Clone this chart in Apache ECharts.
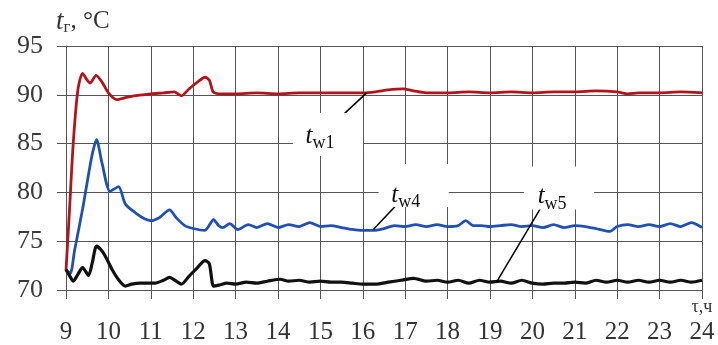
<!DOCTYPE html>
<html>
<head>
<meta charset="utf-8">
<script src="https://cdn.jsdelivr.net/npm/echarts@6/dist/echarts.min.js"></script>
<style>
  html, body { margin: 0; padding: 0; background: #fff; }
  #chart { width: 718px; height: 345px; }
</style>
</head>
<body>
<div id="chart"></div>
<script>
// Supply temperature tw1 (hour, °C)
const w1Hours = [9.0, 9.08, 9.17, 9.28, 9.39, 9.5, 9.57, 9.71, 9.85, 10.0, 10.2, 10.4, 10.6, 10.8, 11.0, 11.3, 11.55, 11.72, 11.9, 12.1, 12.28, 12.38, 12.47, 12.6,
  13.0, 13.5, 14.0, 14.5, 15.0, 15.5, 16.0, 16.3, 16.6, 16.95, 17.2, 17.5, 18.0, 18.5, 19.0, 19.5, 20.0, 20.5, 21.0, 21.5, 22.0, 22.25, 22.5, 23.0, 23.5, 24.0];
const w1Temps = [72.0, 78.0, 85.0, 90.5, 92.2, 91.5, 91.2, 92.0, 91.3, 90.2, 89.5, 89.7, 89.9, 90.0, 90.1, 90.2, 90.3, 89.9, 90.6, 91.3, 91.8, 91.5, 90.3, 90.1,
  90.1, 90.2, 90.1, 90.2, 90.2, 90.2, 90.2, 90.3, 90.5, 90.6, 90.4, 90.2, 90.2, 90.3, 90.2, 90.3, 90.2, 90.3, 90.3, 90.4, 90.3, 90.1, 90.2, 90.2, 90.3, 90.2];

// Temperature tw4
const w4Hours = [9.0, 9.1, 9.2, 9.4, 9.6, 9.72, 9.85, 10.04, 10.24, 10.4, 10.67, 10.85, 11.0, 11.2, 11.44, 11.6, 11.8, 12.0, 12.27, 12.48, 12.6, 12.7, 12.86,
  13.05, 13.3, 13.5, 13.75, 14.0, 14.25, 14.5, 14.75, 15.0, 15.25, 15.5, 15.75, 16.0, 16.25, 16.5, 16.75, 17.0, 17.25, 17.5, 17.75, 18.0, 18.25, 18.43, 18.6,
  18.8, 19.0, 19.25, 19.5, 19.75, 20.0, 20.25, 20.5, 20.75, 21.0, 21.25, 21.5, 21.83, 22.0, 22.25, 22.5, 22.75, 23.0, 23.25, 23.5, 23.75, 24.0];
const w4Temps = [72.0, 71.7, 74.0, 78.5, 83.5, 85.4, 83.0, 80.1, 80.6, 78.8, 77.8, 77.3, 77.1, 77.4, 78.2, 77.4, 76.6, 76.3, 76.1, 77.2, 76.6, 76.4, 76.8,
  76.2, 76.7, 76.4, 76.8, 76.4, 76.7, 76.5, 76.9, 76.5, 76.6, 76.4, 76.2, 76.1, 76.1, 76.3, 76.6, 76.5, 76.7, 76.5, 76.7, 76.5, 76.6, 77.1, 76.6,
  76.6, 76.5, 76.6, 76.7, 76.5, 76.6, 76.4, 76.7, 76.4, 76.6, 76.5, 76.3, 76.0, 76.5, 76.7, 76.5, 76.7, 76.5, 76.8, 76.5, 76.9, 76.4];

// Temperature tw5
const w5Hours = [9.0, 9.08, 9.17, 9.28, 9.39, 9.53, 9.62, 9.72, 9.85, 9.96, 10.1, 10.25, 10.4, 10.55, 10.75, 11.1, 11.3, 11.44, 11.6, 11.72, 11.9, 12.1, 12.28, 12.38, 12.48, 12.6, 12.8,
  13.0, 13.25, 13.5, 13.75, 14.05, 14.25, 14.5, 14.75, 15.0, 15.25, 15.5, 15.75, 16.0, 16.3, 16.6, 16.9, 17.2, 17.5, 17.75, 18.0, 18.25, 18.5, 18.75,
  19.0, 19.25, 19.5, 19.75, 20.0, 20.25, 20.5, 20.75, 21.0, 21.25, 21.5, 21.75, 22.0, 22.25, 22.5, 22.75, 23.0, 23.25, 23.5, 23.75, 24.0];
const w5Temps = [72.1, 71.5, 70.9, 71.6, 72.3, 71.5, 72.8, 74.5, 74.0, 73.2, 72.0, 71.0, 70.4, 70.6, 70.7, 70.7, 71.0, 71.3, 70.9, 70.6, 71.4, 72.3, 73.0, 72.7, 70.4, 70.5, 70.7,
  70.6, 70.8, 70.7, 70.9, 71.1, 70.9, 71.0, 70.8, 70.9, 70.8, 70.8, 70.7, 70.6, 70.6, 70.8, 71.0, 71.2, 70.9, 71.0, 70.8, 71.0, 70.7, 71.0,
  70.8, 70.9, 70.7, 71.0, 70.7, 70.6, 70.7, 70.7, 70.8, 70.7, 71.0, 70.8, 71.0, 70.8, 71.0, 70.8, 71.0, 70.8, 71.0, 70.8, 71.0];

// Axis ticks
const hourTicks = [9, 10, 11, 12, 13, 14, 15, 16, 17, 18, 19, 20, 21, 22, 23, 24];
const tempTicks = [70, 75, 80, 85, 90, 95];

// Curve labels: [name, box centre (hour, °C), leader start, leader end on curve]
const curveLabels = [
  ['w1', [15.18, 85.92], [15.3, 87.0], [16.09, 90.2]],
  ['w4', [17.2, 80.71], [16.76, 78.55], [16.25, 76.2]],
  ['w5', [20.63, 80.46], [20.22, 78.57], [19.16, 70.85]]
];
const labelTextOffsets = { w1: [-8, 2], w4: [-8, 10], w5: [-7, 9] };

const serif = 'Liberation Serif';

function pairs(xs, ys) { return xs.map((x, i) => [x, ys[i]]); }

function annotation(name) {
  const item = curveLabels.find(c => c[0] === name);
  return {
    markPoint: {
      silent: true,
      symbol: 'rect',
      symbolSize: [70, 43],
      itemStyle: { color: '#ffffff' },
      label: {
        show: true,
        position: 'inside',
        offset: labelTextOffsets[name],
        formatter: '{i|t}{s|' + name + '}',
        rich: {
          i: { fontFamily: serif, fontStyle: 'italic', fontSize: 25, color: '#111' },
          s: { fontFamily: serif, fontSize: 18, color: '#111', padding: [14, 0, 0, 0] }
        }
      },
      data: [{ coord: item[1] }]
    },
    markLine: {
      silent: true,
      symbol: ['none', 'none'],
      label: { show: false },
      lineStyle: { color: '#000', width: 1.5, type: 'solid' },
      data: [[{ coord: item[2] }, { coord: item[3] }]]
    }
  };
}

const chart = echarts.init(document.getElementById('chart'));
chart.setOption({
  animation: false,
  backgroundColor: '#ffffff',
  grid: { left: 66, right: 16, top: 46, bottom: 54 },
  xAxis: {
    type: 'value',
    min: hourTicks[0],
    max: hourTicks[hourTicks.length - 1],
    interval: 1,
    name: 'τ,ч',
    nameLocation: 'end',
    nameGap: 0,
    nameTextStyle: { fontFamily: serif, fontSize: 18, color: '#333', align: 'center', verticalAlign: 'top', padding: [8, 0, 0, 0] },
    axisLine: { show: true, lineStyle: { color: '#555', width: 1 } },
    axisTick: { show: true, length: 9, lineStyle: { color: '#555' } },
    splitLine: { show: true, lineStyle: { color: '#555', width: 1 } },
    axisLabel: { fontFamily: serif, fontSize: 25, color: '#333', margin: 30 }
  },
  yAxis: {
    type: 'value',
    min: tempTicks[0],
    max: tempTicks[tempTicks.length - 1],
    interval: 5,
    axisLine: { show: true, lineStyle: { color: '#555', width: 1 } },
    axisTick: { show: true, length: 9, lineStyle: { color: '#555' } },
    splitLine: { show: true, lineStyle: { color: '#555', width: 1 } },
    axisLabel: { fontFamily: serif, fontSize: 26, color: '#3a3a3a', margin: 23 }
  },
  graphic: [{
    type: 'text',
    left: 56,
    top: 8,
    style: {
      text: '{i|t}{s|г}{n|, °C}',
      rich: {
        i: { fontFamily: serif, fontStyle: 'italic', fontSize: 27, fill: '#333' },
        s: { fontFamily: serif, fontSize: 17, fill: '#333', padding: [12, 0, 0, 0] },
        n: { fontFamily: serif, fontSize: 25, fill: '#333' }
      }
    }
  }],
  series: [
    Object.assign({
      name: 'tw1', type: 'line', data: pairs(w1Hours, w1Temps), showSymbol: false, smooth: 0.25,
      lineStyle: { color: '#b3141c', width: 2.8 }, itemStyle: { color: '#b3141c' }, z: 3
    }, annotation('w1')),
    Object.assign({
      name: 'tw4', type: 'line', data: pairs(w4Hours, w4Temps), showSymbol: false, smooth: 0.25,
      lineStyle: { color: '#2150b4', width: 2.8 }, itemStyle: { color: '#2150b4' }, z: 3
    }, annotation('w4')),
    Object.assign({
      name: 'tw5', type: 'line', data: pairs(w5Hours, w5Temps), showSymbol: false, smooth: 0.25,
      lineStyle: { color: '#111111', width: 3.2 }, itemStyle: { color: '#111111' }, z: 3
    }, annotation('w5'))
  ]
});
</script>
</body>
</html>
